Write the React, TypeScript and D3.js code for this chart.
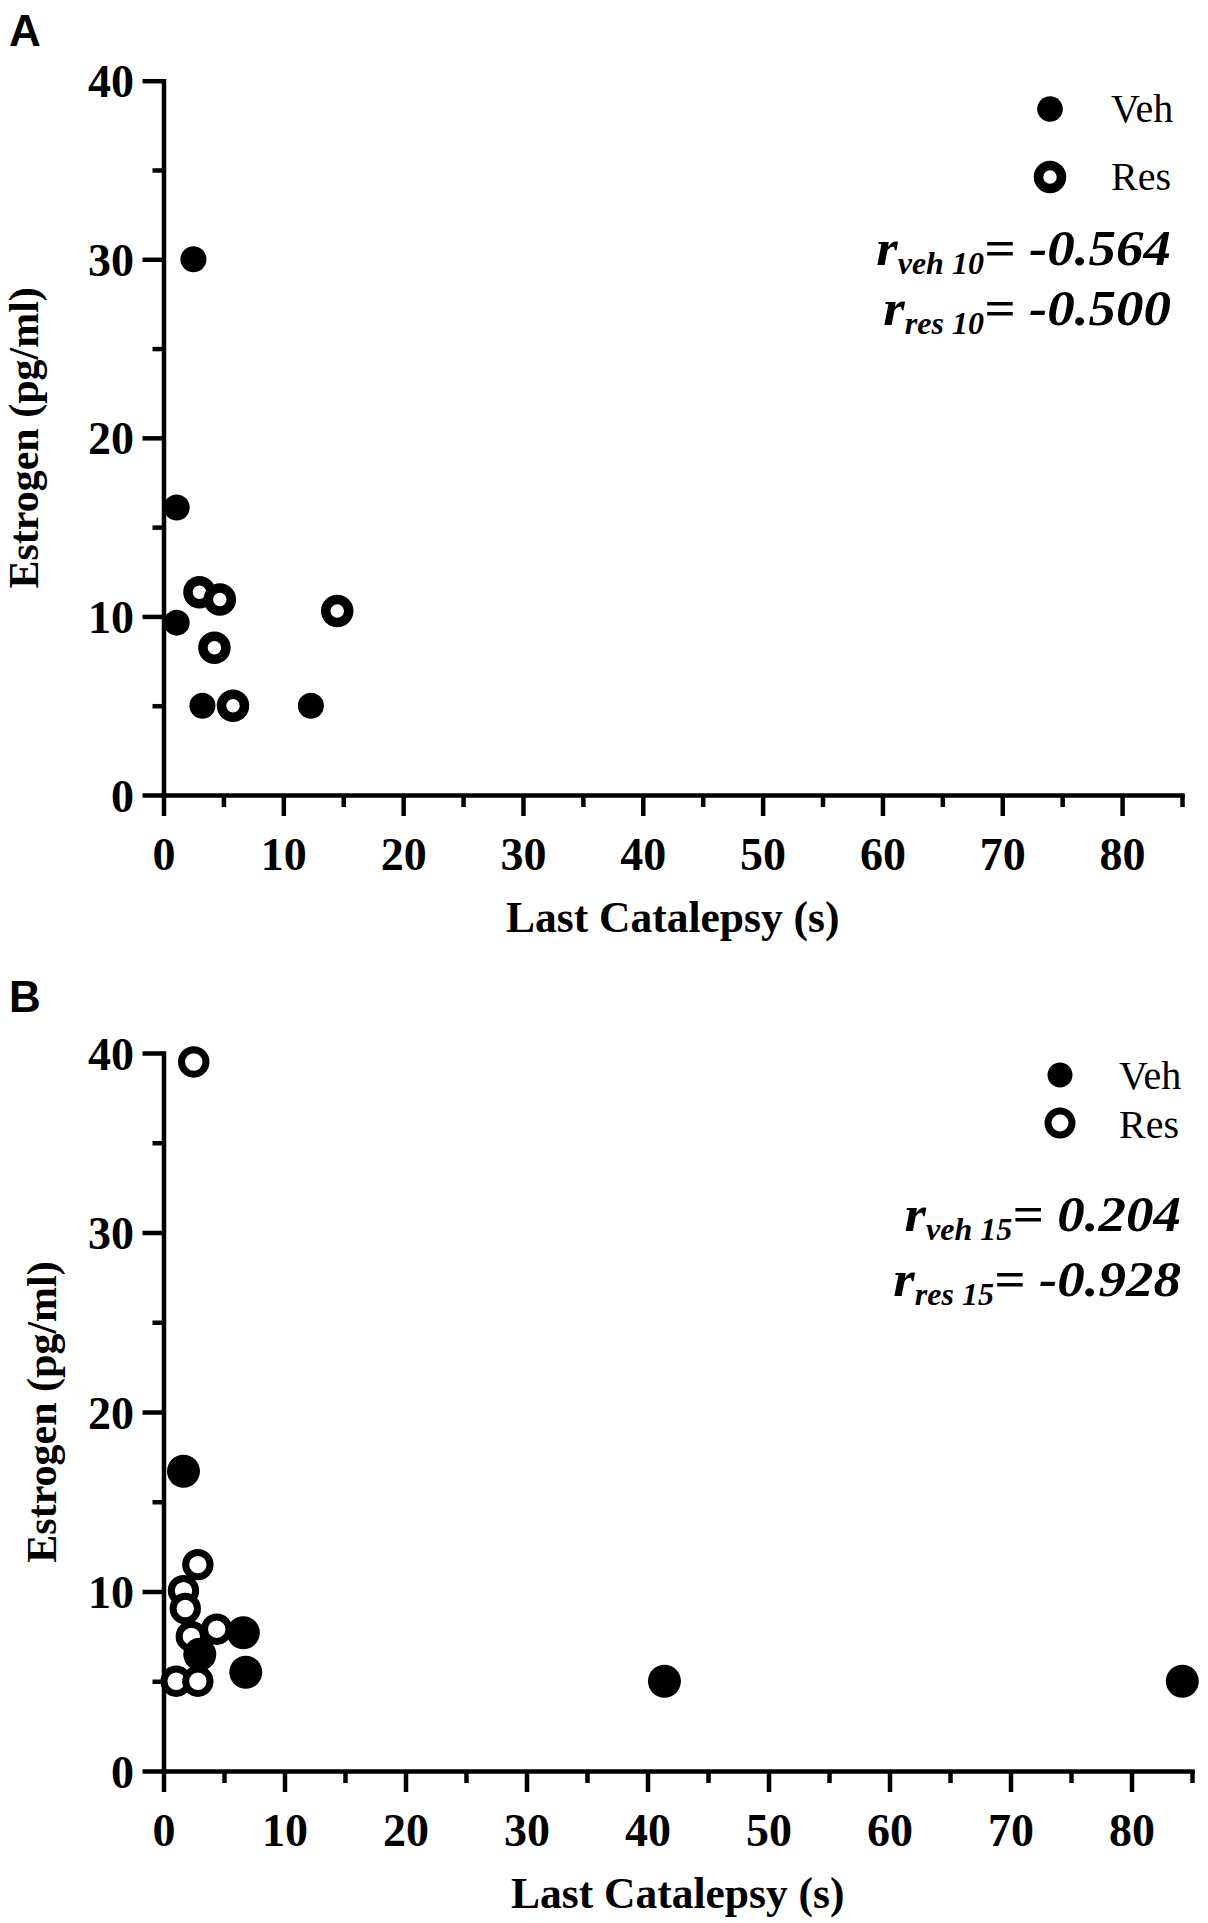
import React, { useRef, useEffect } from "react";
import * as d3 from "d3";

// ---- data ----
const xMajor = [0, 10, 20, 30, 40, 50, 60, 70, 80];
const xMinor = [5, 15, 25, 35, 45, 55, 65, 75, 85];
const yMajor = [0, 10, 20, 30, 40];
const yMinor = [5, 15, 25, 35];

// Panel A (10)
const vehAx = [2.5, 1.1, 1.1, 3.25, 12.3];
const vehAy = [30, 16.1, 9.65, 5, 5];
const resAx = [3.0, 4.7, 4.25, 5.8, 14.5];
const resAy = [11.35, 10.95, 8.25, 5, 10.3];

// Panel B (15)
const vehBx = [1.65, 6.6, 3.0, 6.8, 41.4, 84.2];
const vehBy = [16.7, 7.7, 6.5, 5.5, 5, 5];
const resBx = [2.5, 2.84, 1.65, 1.8, 4.4, 2.3, 1.05, 2.84];
const resBy = [39.5, 11.5, 10.05, 9.05, 7.9, 7.5, 5, 5];

const seriesNames = ["Veh", "Res"];
const rA = [
  { sub: "veh 10", val: "= -0.564" },
  { sub: "res 10", val: "= -0.500" },
];
const rB = [
  { sub: "veh 15", val: "= 0.204" },
  { sub: "res 15", val: "= -0.928" },
];

const SERIF = "'Liberation Serif', 'Times New Roman', serif";
const SANS = "'Liberation Sans', Arial, sans-serif";

type Pt = { x: number; y: number };
const zip = (xs: number[], ys: number[]): Pt[] => xs.map((x, i) => ({ x, y: ys[i] }));

type PanelCfg = {
  letter: string;
  letterY: number;
  left: number;
  right: number;
  top: number;
  bottom: number;
  yTitleX: number;
  veh: Pt[];
  res: Pt[];
  dotR: number;
  ringR: number;
  ringW: number;
  legend: { x: number; textX: number; y: number[]; base: number[]; dotR: number; ringR: number; ringW: number };
  corr: { sub: string; val: string }[];
  corrRight: number;
  corrBase: number[];
};

const panels: PanelCfg[] = [
  {
    letter: "A",
    letterY: 46,
    left: 163.5,
    right: 1182,
    top: 80.7,
    bottom: 795,
    yTitleX: 37.5,
    veh: zip(vehAx, vehAy),
    res: zip(resAx, resAy),
    dotR: 13,
    ringR: 11.5,
    ringW: 9.5,
    legend: { x: 1050, textX: 1111, y: [109, 177], base: [122, 190], dotR: 12.8, ringR: 11.5, ringW: 9.5 },
    corr: rA,
    corrRight: 1171,
    corrBase: [265, 325],
  },
  {
    letter: "B",
    letterY: 1012,
    left: 163.5,
    right: 1192,
    top: 1053,
    bottom: 1771,
    yTitleX: 56,
    veh: zip(vehBx, vehBy),
    res: zip(resBx, resBy),
    dotR: 16.5,
    ringR: 12.2,
    ringW: 7,
    legend: { x: 1060, textX: 1119, y: [1075, 1123], base: [1089, 1138], dotR: 12.5, ringR: 12, ringW: 7 },
    corr: rB,
    corrRight: 1181,
    corrBase: [1231, 1296],
  },
];

const W = 1208;
const H = 1923;
const LW = 4.5;
const STRETCH = 1.1;
const MAIN_SIZE = 50;
const SUB_SIZE = 32;

function drawPanel(svg: d3.Selection<SVGSVGElement, unknown, null, undefined>, p: PanelCfg) {
  const x = d3.scaleLinear().domain([0, 85]).range([p.left, p.right]);
  const y = d3.scaleLinear().domain([0, 40]).range([p.bottom, p.top]);
  const g = svg.append("g");

  // panel letter
  g.append("text")
    .attr("x", 9)
    .attr("y", p.letterY)
    .attr("font-family", SANS)
    .attr("font-weight", "bold")
    .attr("font-size", 44)
    .text(p.letter);

  // x axis: major + minor ticks
  const gx = g.append("g").attr("transform", `translate(0,${p.bottom})`);
  gx.append("g")
    .call(d3.axisBottom(x).tickValues(xMinor).tickSize(12).tickSizeOuter(0).tickFormat(() => ""))
    .call((s) => s.select(".domain").remove());
  gx.append("g")
    .call(d3.axisBottom(x).tickValues(xMajor).tickSize(21).tickSizeOuter(0).tickFormat(d3.format("d")))
    .call((s) => s.select(".domain").attr("stroke-linecap", "square"));
  gx.selectAll("line, path").attr("stroke", "#000").attr("stroke-width", LW);
  gx.selectAll("text")
    .attr("y", 75)
    .attr("dy", null)
    .attr("fill", "#000")
    .attr("font-family", SERIF)
    .attr("font-weight", "bold")
    .attr("font-size", 46);

  // y axis
  const gy = g.append("g").attr("transform", `translate(${p.left},0)`);
  gy.append("g")
    .call(d3.axisLeft(y).tickValues(yMinor).tickSize(11).tickSizeOuter(0).tickFormat(() => ""))
    .call((s) => s.select(".domain").remove());
  gy.append("g")
    .call(d3.axisLeft(y).tickValues(yMajor).tickSize(21).tickSizeOuter(0).tickFormat(d3.format("d")))
    .call((s) => s.select(".domain").attr("stroke-linecap", "square"));
  gy.selectAll("line, path").attr("stroke", "#000").attr("stroke-width", LW);
  gy.selectAll("text")
    .attr("x", -29.5)
    .attr("dy", "0.35em")
    .attr("fill", "#000")
    .attr("font-family", SERIF)
    .attr("font-weight", "bold")
    .attr("font-size", 46);

  // axis titles
  g.append("text")
    .attr("x", (p.left + p.right) / 2)
    .attr("y", p.bottom + 137)
    .attr("text-anchor", "middle")
    .attr("font-family", SERIF)
    .attr("font-weight", "bold")
    .attr("font-size", 43.5)
    .text("Last Catalepsy (s)");
  g.append("text")
    .attr("transform", `translate(${p.yTitleX},${(p.top + p.bottom) / 2}) rotate(-90)`)
    .attr("text-anchor", "middle")
    .attr("font-family", SERIF)
    .attr("font-weight", "bold")
    .attr("font-size", 42)
    .text("Estrogen (pg/ml)");

  // points: Res (open) first, Veh (filled) on top
  g.append("g")
    .selectAll("circle")
    .data(p.res)
    .enter()
    .append("circle")
    .attr("cx", (d) => x(d.x))
    .attr("cy", (d) => y(d.y))
    .attr("r", p.ringR)
    .attr("fill", "#fff")
    .attr("stroke", "#000")
    .attr("stroke-width", p.ringW);
  g.append("g")
    .selectAll("circle")
    .data(p.veh)
    .enter()
    .append("circle")
    .attr("cx", (d) => x(d.x))
    .attr("cy", (d) => y(d.y))
    .attr("r", p.dotR)
    .attr("fill", "#000");

  // legend
  const lg = g.append("g");
  seriesNames.forEach((name, i) => {
    const c = lg.append("circle").attr("cx", p.legend.x).attr("cy", p.legend.y[i]);
    if (i === 0) c.attr("r", p.legend.dotR).attr("fill", "#000");
    else c.attr("r", p.legend.ringR).attr("fill", "#fff").attr("stroke", "#000").attr("stroke-width", p.legend.ringW);
    lg.append("text")
      .attr("x", p.legend.textX)
      .attr("y", p.legend.base[i])
      .attr("font-family", SERIF)
      .attr("font-size", 40)
      .text(name);
  });

  // correlation annotations, laid out right to left (main glyphs are a bit wide in the original)
  p.corr.forEach((c, i) => {
    const base = p.corrBase[i];
    const style = (t: d3.Selection<SVGTextElement, unknown, null, undefined>, size: number) =>
      t
        .attr("text-anchor", "end")
        .attr("font-family", SERIF)
        .attr("font-weight", "bold")
        .attr("font-style", "italic")
        .attr("font-size", size);

    const vt = style(g.append("text") as any, MAIN_SIZE)
      .attr("transform", `translate(${p.corrRight},${base}) scale(${STRETCH},1)`)
      .text(c.val);
    const vw = (vt.node() as SVGTextElement).getComputedTextLength() * STRETCH;

    const st = style(g.append("text") as any, SUB_SIZE)
      .attr("x", p.corrRight - vw)
      .attr("y", base + 9)
      .text(c.sub);
    const sw = (st.node() as SVGTextElement).getComputedTextLength();

    style(g.append("text") as any, MAIN_SIZE)
      .attr("transform", `translate(${p.corrRight - vw - sw},${base}) scale(${STRETCH},1)`)
      .text("r");
  });
}

const ScatterFigure: React.FC = () => {
  const svgRef = useRef<SVGSVGElement | null>(null);

  useEffect(() => {
    const svg = d3.select(svgRef.current as SVGSVGElement);
    svg.selectAll("*").remove();
    svg.append("rect").attr("width", W).attr("height", H).attr("fill", "#fff");
    panels.forEach((p) => drawPanel(svg, p));
  }, []);

  return (
    <svg
      ref={svgRef}
      width={W}
      height={H}
      style={{ position: "absolute", left: 0, top: 0, display: "block" }}
    />
  );
};

export default function App() {
  return <ScatterFigure />;
}
